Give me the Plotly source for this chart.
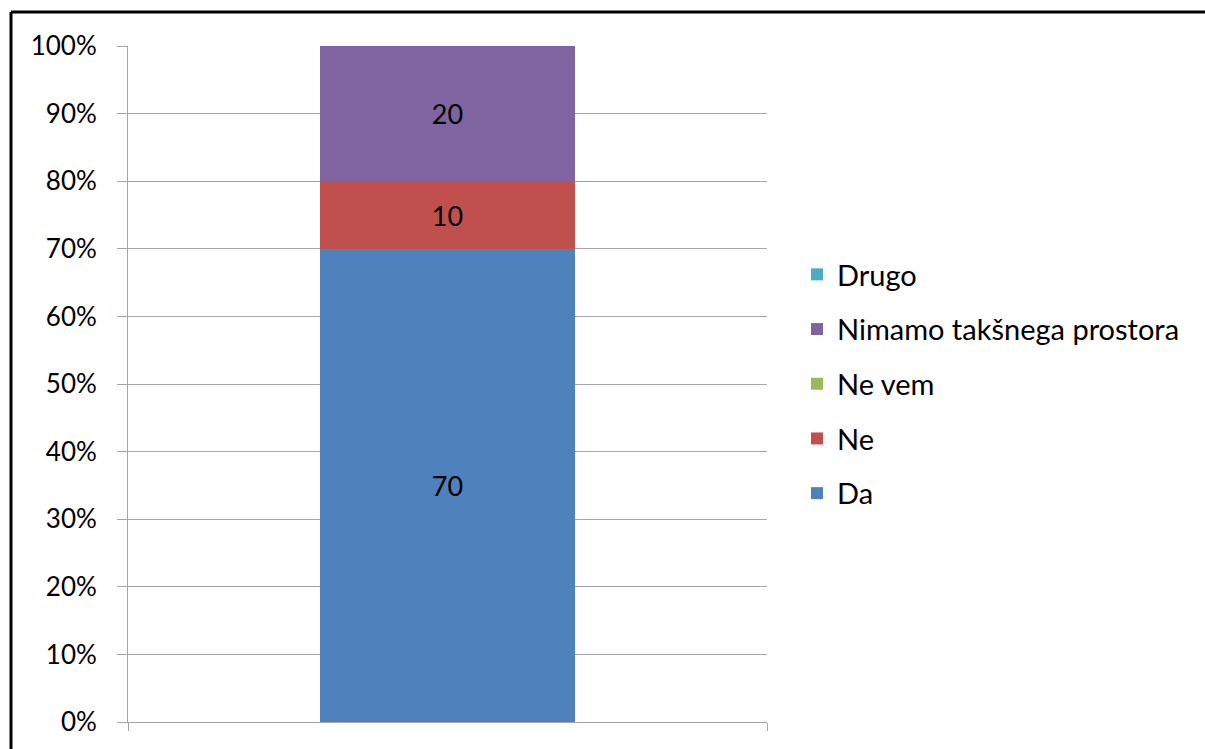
import plotly.graph_objects as go

# data
series = ["Da", "Ne", "Ne vem", "Nimamo takšnega prostora", "Drugo"]
values = [70, 10, 0, 20, 0]
colors = ["#4F81BD", "#C0504D", "#9BBB59", "#8064A2", "#4BACC6"]
category = [0]
y_ticks = [0, 10, 20, 30, 40, 50, 60, 70, 80, 90, 100]
y_tick_labels = [f"{t}%" for t in y_ticks]

W, H = 1205, 749
L, R, T, B = 128, 767, 46, 722  # plot area in pixels

fig = go.Figure()
for i, (name, v, c) in enumerate(zip(series, values, colors)):
    fig.add_trace(go.Bar(
        x=category, y=[v], name=name, marker_color=c, marker_line_width=0,
        width=0.4, text=[str(v) if v else ""], textposition="inside",
        insidetextanchor="middle", textfont=dict(color="black", size=27),
        legendgroup=name, legendrank=len(series) - i,
    ))

pw, ph = R - L, B - T
def px(x):
    return (x - L) / pw
def py(y):
    return (B - y) / ph

fig.update_layout(
    width=W, height=H,
    margin=dict(l=L, r=W - R, t=T, b=H - B),
    barmode="stack",
    plot_bgcolor="white", paper_bgcolor="white",
    font=dict(family="Lato, Carlito, sans-serif", size=26, color="black"),
    showlegend=True,
    legend=dict(x=px(797), y=py(249), xanchor="left", yanchor="top",
                traceorder="grouped", tracegroupgap=14,
                font=dict(size=29), itemwidth=30),
    xaxis=dict(range=[-0.5, 0.5], showticklabels=False, showgrid=False,
               zeroline=False, showline=True, linecolor="#A6A6A6", linewidth=1,
               tickvals=[-0.5, 0.5], ticks="outside", ticklen=8,
               tickcolor="#A6A6A6"),
    yaxis=dict(range=[0, 100], tickvals=y_ticks, ticktext=y_tick_labels,
               showgrid=True, gridcolor="#A6A6A6", gridwidth=1,
               zeroline=False, showline=True, linecolor="#A6A6A6", linewidth=1,
               ticks="outside", ticklen=10, tickcolor="#A6A6A6",
               ticklabelstandoff=15, tickfont=dict(size=26)),
    shapes=[
        dict(type="line", xref="paper", yref="paper",
             x0=px(11), x1=px(11), y0=py(760), y1=py(12),
             line=dict(color="black", width=3)),
        dict(type="line", xref="paper", yref="paper",
             x0=px(11), x1=px(1215), y0=py(12), y1=py(12),
             line=dict(color="black", width=3)),
    ],
)

# drop the default page margin so the figure sits at the window's corner
fig.write_html("out.html", config={"displayModeBar": False},
               post_script="document.body.style.margin='0';")
